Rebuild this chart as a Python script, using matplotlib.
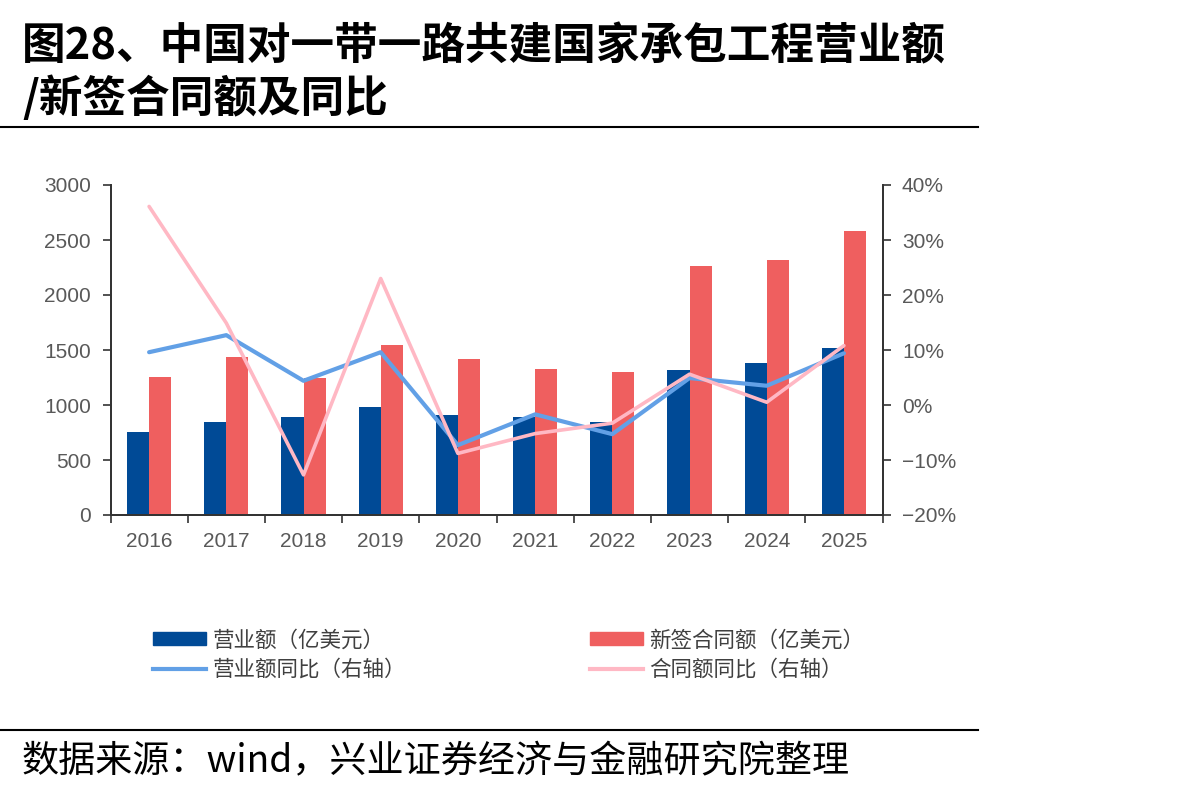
import matplotlib
matplotlib.use("Agg")
import matplotlib.pyplot as plt
import numpy as np
from matplotlib.lines import Line2D
from matplotlib.patches import Patch
from matplotlib.ticker import FuncFormatter, FixedLocator

plt.rcParams['font.family'] = ['Liberation Sans', 'Noto Sans CJK SC', 'DejaVu Sans']

years = ['2016', '2017', '2018', '2019', '2020', '2021', '2022', '2023', '2024', '2025']
revenue = [752, 848, 894, 979, 906, 894, 848, 1318, 1379, 1518]
new_contracts = [1257, 1436, 1248, 1545, 1415, 1330, 1297, 2261, 2321, 2579]
revenue_yoy = [9.6, 12.7, 4.4, 9.6, -7.3, -1.7, -5.3, 4.9, 3.5, 9.4]
contract_yoy = [36.1, 14.9, -12.7, 23.0, -8.8, -5.2, -3.3, 5.6, 0.5, 10.8]

label_rev = '营业额（亿美元）'
label_new = '新签合同额（亿美元）'
label_rev_yoy = '营业额同比（右轴）'
label_con_yoy = '合同额同比（右轴）'

title_l1 = '图28、中国对一带一路共建国家承包工程营业额'
title_l2 = '/新签合同额及同比'
source = '数据来源：wind，兴业证券经济与金融研究院整理'

c_blue = '#004A96'
c_red = '#EF5F5F'
c_lblue = '#62A0E6'
c_pink = '#FFB8C4'
c_tick = '#595959'

W, H = 1192, 796
fig = plt.figure(figsize=(W / 100, H / 100), dpi=100)

def fx(px):
    return px / W

def fy(py):
    return 1 - py / H

ax = fig.add_axes([fx(110.5), fy(515), fx(882.5) - fx(110.5), fy(185) - fy(515)])
ax2 = ax.twinx()

x = np.arange(len(years))
bw = 0.285
ax.bar(x - bw / 2, revenue, width=bw, color=c_blue, zorder=2)
ax.bar(x + bw / 2, new_contracts, width=bw, color=c_red, zorder=2)
ax2.plot(x, revenue_yoy, color=c_lblue, lw=3.0, zorder=3, solid_capstyle='round')
ax2.plot(x, contract_yoy, color=c_pink, lw=2.6, zorder=4, solid_capstyle='round')

ax.set_xlim(-0.5, len(years) - 0.5)
ax.set_ylim(0, 3000)
ax.set_yticks(np.arange(0, 3001, 500))
ax2.set_ylim(-20, 40)
ax2.set_yticks(np.arange(-20, 41, 10))
ax2.yaxis.set_major_formatter(FuncFormatter(lambda v, p: f"{int(v)}%".replace('-', '\u2212')))

ax.set_xticks(x)
ax.set_xticklabels(years)
ax.xaxis.set_minor_locator(FixedLocator(np.arange(-0.5, len(years), 1.0)))
ax.tick_params(axis='x', which='major', length=0, pad=12, labelsize=15, labelcolor=c_tick)
ax.tick_params(axis='x', which='minor', length=6, width=1.2, color='#333333', direction='out')
ax.tick_params(axis='y', length=6, width=1.2, color='#333333', pad=8, labelsize=15, labelcolor=c_tick)
ax2.tick_params(axis='y', length=6, width=1.2, color='#333333', pad=8, labelsize=15, labelcolor=c_tick)

for a in (ax, ax2):
    a.spines['top'].set_visible(False)
    for s in ('left', 'right', 'bottom'):
        a.spines[s].set_color('#333333')
        a.spines[s].set_linewidth(1.3)
ax.patch.set_visible(False)

# legends
leg_font = {'family': ['Noto Sans CJK SC', 'DejaVu Sans'], 'size': 15.5}
h1 = [Patch(color=c_blue), Line2D([0], [0], color=c_lblue, lw=3)]
h2 = [Patch(color=c_red), Line2D([0], [0], color=c_pink, lw=3)]
common = dict(frameon=False, prop=leg_font, handlelength=2.45, handleheight=0.55,
              labelspacing=0.35, handletextpad=0.3, borderaxespad=0, borderpad=0,
              labelcolor='#404040', loc='center left')
lg1 = fig.legend(h1, [label_rev, label_rev_yoy], bbox_to_anchor=(fx(153), fy(655)), **common)
lg2 = fig.legend(h2, [label_new, label_con_yoy], bbox_to_anchor=(fx(590), fy(655)), **common)

# title
fig.text(fx(22), fy(46), title_l1, fontsize=31.4, fontweight='bold', family=['Noto Sans CJK SC'],
         va='center', ha='left', color='black')
fig.text(fx(22), fy(98), title_l2, fontsize=31.4, fontweight='bold', family=['Noto Sans CJK SC'],
         va='center', ha='left', color='black')

fig.add_artist(Line2D([0, fx(978)], [fy(127), fy(127)], color='black', lw=1.5))
fig.add_artist(Line2D([0, fx(978)], [fy(730), fy(730)], color='black', lw=1.5))

fig.text(fx(22), fy(762), source, fontsize=26.7, family=['Noto Sans CJK SC', 'DejaVu Sans'],
         va='center', ha='left', color='black')

fig.savefig('out.png', dpi=100)
